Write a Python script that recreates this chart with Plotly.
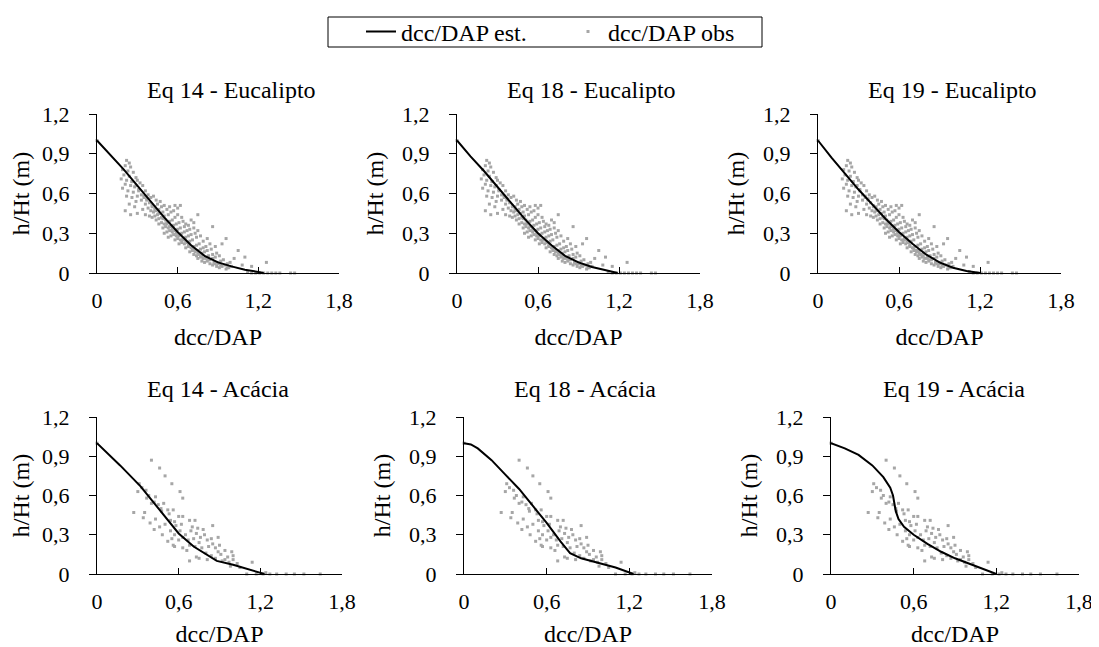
import plotly.graph_objects as go

# curvas estimadas dcc/DAP x h/Ht
eq14_euc_x = [0, 0.1, 0.2, 0.3, 0.4, 0.5, 0.6, 0.7, 0.8, 0.9, 1.0, 1.1, 1.2, 1.24]
eq14_euc_y = [1.0, 0.89, 0.78, 0.66, 0.54, 0.42, 0.31, 0.21, 0.13, 0.08, 0.05, 0.025, 0.008, 0.0]
eq18_euc_x = [0, 0.1, 0.2, 0.3, 0.4, 0.5, 0.6, 0.7, 0.8, 0.9, 1.0, 1.1, 1.19]
eq18_euc_y = [1.0, 0.88, 0.77, 0.65, 0.53, 0.41, 0.30, 0.21, 0.13, 0.08, 0.045, 0.02, 0.0]
eq19_euc_x = [0, 0.1, 0.2, 0.3, 0.4, 0.5, 0.6, 0.7, 0.8, 0.9, 1.0, 1.1, 1.2]
eq19_euc_y = [1.0, 0.87, 0.75, 0.63, 0.52, 0.41, 0.31, 0.22, 0.14, 0.08, 0.04, 0.015, 0.0]
eq14_aca_x = [0, 0.17, 0.32, 0.46, 0.6, 0.71, 0.8, 0.88, 1.0, 1.1, 1.23]
eq14_aca_y = [1.0, 0.83, 0.67, 0.49, 0.31, 0.21, 0.15, 0.10, 0.07, 0.04, 0.0]
eq18_aca_x = [0, 0.05, 0.1, 0.2, 0.3, 0.4, 0.5, 0.6, 0.7, 0.77, 0.85, 1.0, 1.1, 1.23]
eq18_aca_y = [1.0, 0.99, 0.96, 0.87, 0.76, 0.65, 0.52, 0.39, 0.25, 0.16, 0.12, 0.08, 0.05, 0.0]
eq19_aca_x = [0, 0.1, 0.2, 0.3, 0.38, 0.43, 0.45, 0.46, 0.47, 0.49, 0.53, 0.6, 0.7, 0.8, 0.9, 1.0, 1.1, 1.2]
eq19_aca_y = [1.0, 0.96, 0.91, 0.83, 0.74, 0.66, 0.6, 0.54, 0.48, 0.42, 0.36, 0.3, 0.23, 0.17, 0.12, 0.08, 0.04, 0.0]

# observados - eucalipto
obs_euc_x = [0.0,
    0.22, 0.24, 0.21, 0.25, 0.19, 0.23, 0.27, 0.20, 0.24, 0.29, 0.18, 0.22, 0.26, 0.30, 0.21,
    0.25, 0.28, 0.32, 0.19, 0.23, 0.27, 0.31, 0.34, 0.36, 0.22, 0.26, 0.30, 0.33, 0.24, 0.29,
    0.21, 0.25, 0.30, 0.28, 0.34, 0.36,
    0.33, 0.35, 0.37, 0.38, 0.40, 0.42, 0.44, 0.36, 0.39, 0.41, 0.43, 0.45, 0.47, 0.38, 0.40,
    0.42, 0.44, 0.46, 0.48, 0.50, 0.39, 0.41, 0.43, 0.45, 0.47, 0.49, 0.52, 0.54, 0.44, 0.46,
    0.48, 0.50, 0.51, 0.53, 0.55, 0.58, 0.60, 0.62, 0.57,
    0.46, 0.48, 0.50, 0.52, 0.54, 0.56, 0.58, 0.60, 0.63, 0.49, 0.51, 0.53, 0.55, 0.57, 0.59,
    0.61, 0.64, 0.66, 0.52, 0.54, 0.56, 0.58, 0.60, 0.62, 0.65, 0.68, 0.70, 0.55, 0.57, 0.59,
    0.61, 0.63, 0.65, 0.67, 0.69, 0.72, 0.58, 0.60, 0.62, 0.64, 0.66, 0.68, 0.70, 0.73, 0.75,
    0.61, 0.63, 0.65, 0.67, 0.69, 0.71, 0.74, 0.77, 0.75, 0.72, 0.50, 0.53,
    0.66, 0.68, 0.70, 0.72, 0.74, 0.76, 0.79, 0.82, 0.69, 0.71, 0.73, 0.75, 0.77, 0.79, 0.81,
    0.84, 0.72, 0.74, 0.76, 0.78, 0.80, 0.82, 0.85, 0.88, 0.75, 0.77, 0.79, 0.81, 0.83, 0.86,
    0.89, 0.78, 0.80, 0.82, 0.84, 0.86, 0.88, 0.91, 0.84, 0.86, 0.88, 0.90, 0.92, 0.94, 0.89,
    0.91, 0.93, 0.95, 0.97, 0.99, 0.96, 0.98, 1.00, 0.86, 0.96, 0.93, 1.05, 1.10, 1.02, 1.26,
    1.15, 1.08,
    # faixa junto da curva
    0.26, 0.31, 0.35, 0.41, 0.46, 0.52, 0.56, 0.61, 0.64, 0.68, 0.71, 0.75, 0.78, 0.83, 0.87,
    0.92, 0.97, 0.29, 0.37, 0.43, 0.49, 0.54, 0.59, 0.66, 0.73, 0.81, 0.90,
    1.18, 1.21, 1.24, 1.27, 1.30, 1.33, 1.36, 1.44, 1.47, 1.12, 1.15]
obs_euc_y = [1.0,
    0.85, 0.83, 0.81, 0.80, 0.78, 0.77, 0.76, 0.74, 0.73, 0.72, 0.71, 0.70, 0.69, 0.70, 0.67,
    0.66, 0.65, 0.68, 0.64, 0.62, 0.61, 0.63, 0.66, 0.62, 0.58, 0.57, 0.58, 0.59, 0.52, 0.54,
    0.47, 0.44, 0.45, 0.50, 0.48, 0.44,
    0.55, 0.57, 0.56, 0.59, 0.57, 0.58, 0.55, 0.52, 0.53, 0.51, 0.50, 0.52, 0.54, 0.49, 0.47,
    0.46, 0.47, 0.48, 0.50, 0.51, 0.43, 0.42, 0.43, 0.44, 0.45, 0.46, 0.48, 0.50, 0.40, 0.41,
    0.42, 0.43, 0.40, 0.44, 0.46, 0.51, 0.49, 0.51, 0.47,
    0.37, 0.38, 0.37, 0.38, 0.39, 0.40, 0.42, 0.44, 0.42, 0.34, 0.35, 0.34, 0.35, 0.36, 0.37,
    0.38, 0.39, 0.37, 0.31, 0.32, 0.31, 0.32, 0.33, 0.34, 0.35, 0.36, 0.40, 0.28, 0.29, 0.28,
    0.29, 0.30, 0.31, 0.32, 0.33, 0.34, 0.25, 0.26, 0.25, 0.26, 0.27, 0.28, 0.29, 0.30, 0.32,
    0.22, 0.23, 0.22, 0.23, 0.24, 0.25, 0.27, 0.28, 0.44, 0.38, 0.30, 0.27,
    0.19, 0.20, 0.19, 0.20, 0.21, 0.22, 0.24, 0.26, 0.16, 0.17, 0.16, 0.17, 0.18, 0.19, 0.20,
    0.22, 0.14, 0.13, 0.14, 0.15, 0.16, 0.17, 0.18, 0.20, 0.11, 0.12, 0.11, 0.12, 0.13, 0.14,
    0.15, 0.09, 0.08, 0.09, 0.10, 0.11, 0.12, 0.13, 0.07, 0.06, 0.07, 0.08, 0.09, 0.10, 0.05,
    0.04, 0.05, 0.06, 0.07, 0.08, 0.03, 0.04, 0.05, 0.35, 0.26, 0.22, 0.17, 0.12, 0.11, 0.08,
    0.05, 0.06,
    0.69, 0.62, 0.58, 0.50, 0.45, 0.37, 0.33, 0.28, 0.25, 0.21, 0.19, 0.15, 0.13, 0.10, 0.08,
    0.06, 0.04, 0.66, 0.55, 0.48, 0.41, 0.35, 0.30, 0.24, 0.17, 0.11, 0.07,
    0.0, 0.0, 0.0, 0.0, 0.0, 0.0, 0.0, 0.0, 0.0, 0.01, 0.0]

# observados - acacia
obs_aca_x = [0.0,
    0.40, 0.46, 0.50, 0.55, 0.61, 0.63,
    0.31, 0.30, 0.36, 0.33, 0.38, 0.43, 0.365, 0.40, 0.42, 0.45, 0.49, 0.47,
    0.27, 0.35, 0.34, 0.39, 0.42, 0.43, 0.48, 0.46, 0.50,
    0.475, 0.52, 0.56, 0.53,
    0.54, 0.57, 0.60, 0.63, 0.68, 0.72, 0.58, 0.62,
    0.74, 0.78, 0.85, 0.70,
    0.54, 0.57, 0.61, 0.65, 0.69, 0.52, 0.56,
    0.55, 0.60, 0.63, 0.67, 0.71, 0.76, 0.81, 0.84, 0.89, 0.79, 0.73,
    0.57, 0.63, 0.68, 0.72, 0.77, 0.82, 0.87, 0.90, 0.94, 0.99, 0.75, 0.85, 0.66, 0.80, 0.91, 0.96,
    0.68, 0.75, 0.81, 0.87, 0.92, 0.97, 1.00, 1.03, 1.14, 0.84, 0.94, 1.00, 0.73, 0.89, 0.98, 1.05,
    1.10, 1.17, 1.22, 1.27, 1.32, 1.39, 1.45, 1.52, 1.64, 1.24]
obs_aca_y = [1.0,
    0.87, 0.81, 0.75, 0.69, 0.63, 0.58,
    0.69, 0.63, 0.64, 0.66, 0.60, 0.59, 0.58, 0.54, 0.55, 0.53, 0.54, 0.50,
    0.47, 0.47, 0.43, 0.39, 0.34, 0.42, 0.30, 0.36, 0.38,
    0.48, 0.49, 0.49, 0.46,
    0.41, 0.40, 0.44, 0.44, 0.41, 0.41, 0.37, 0.38,
    0.35, 0.34, 0.37, 0.36,
    0.33, 0.30, 0.33, 0.30, 0.33, 0.25, 0.22,
    0.27, 0.26, 0.28, 0.26, 0.27, 0.28, 0.26, 0.27, 0.28, 0.30, 0.31,
    0.21, 0.20, 0.22, 0.21, 0.20, 0.21, 0.20, 0.22, 0.18, 0.17, 0.24, 0.23, 0.18, 0.16, 0.15, 0.13,
    0.10, 0.12, 0.11, 0.12, 0.10, 0.09, 0.11, 0.08, 0.09, 0.14, 0.11, 0.14, 0.13, 0.17, 0.06, 0.05,
    0.0, 0.0, 0.0, 0.0, 0.0, 0.0, 0.0, 0.0, 0.0, 0.01]

titulos = ["Eq 14 - Eucalipto", "Eq 18 - Eucalipto", "Eq 19 - Eucalipto",
           "Eq 14 - Acácia", "Eq 18 - Acácia", "Eq 19 - Acácia"]
curvas = [(eq14_euc_x, eq14_euc_y), (eq18_euc_x, eq18_euc_y), (eq19_euc_x, eq19_euc_y),
          (eq14_aca_x, eq14_aca_y), (eq18_aca_x, eq18_aca_y), (eq19_aca_x, eq19_aca_y)]
obs = [(obs_euc_x, obs_euc_y)] * 3 + [(obs_aca_x, obs_aca_y)] * 3

# a pagina tem margem de 8px no body: a figura fica 8px menor e as posicoes sao descontadas
JANELA_W, JANELA_H, OFF = 1099, 647, 8
W, H = JANELA_W - OFF, JANELA_H - OFF


def px(v):
    return (v - OFF) / W


def py(v):
    return 1 - (v - OFF) / H


# caixas dos graficos em pixels da janela: (x esq, x dir, y topo, y base)
caixas = [(97, 339, 114, 273), (457, 700, 114, 273), (818, 1061, 114, 273),
          (97, 342, 417, 574), (464, 712, 417, 574), (831, 1079, 417, 574)]
centro_titulo = [231, 591, 952, 218, 585, 954]
altura_titulo = [90, 90, 90, 389, 389, 389]
fonte = "'Times New Roman', 'Liberation Serif', 'DejaVu Serif', serif"

fig = go.Figure()
layout = {}
anots = []
for i in range(6):
    n = "" if i == 0 else str(i + 1)
    ox, oy = obs[i]
    cx, cy = curvas[i]
    fig.add_trace(go.Scatter(x=ox, y=oy, mode="markers", name="dcc/DAP obs",
                             marker=dict(symbol="square", size=3, color="#a6a6a6"),
                             cliponaxis=False, showlegend=(i == 0), legendrank=2,
                             xaxis="x" + n, yaxis="y" + n))
    fig.add_trace(go.Scatter(x=cx, y=cy, mode="lines", name="dcc/DAP est.",
                             line=dict(color="black", width=2), cliponaxis=False,
                             showlegend=(i == 0), legendrank=1,
                             xaxis="x" + n, yaxis="y" + n))
    x0, x1, y0, y1 = caixas[i]
    layout["xaxis" + n] = dict(
        domain=[px(x0), px(x1)], range=[0, 1.8], tickvals=[0, 0.6, 1.2, 1.8],
        anchor="y" + n, showline=True, linecolor="black", linewidth=1, automargin=False,
        ticks="inside", ticklen=6, tickcolor="black", showgrid=False, zeroline=False,
        ticklabelstandoff=8, tickfont=dict(size=22),
        title=dict(text="dcc/DAP", font=dict(size=24), standoff=15))
    layout["yaxis" + n] = dict(
        domain=[py(y1), py(y0)], range=[0, 1.2], tickvals=[0, 0.3, 0.6, 0.9, 1.2],
        anchor="x" + n, showline=True, linecolor="black", linewidth=1, automargin=False,
        ticks="outside", ticklen=7, tickcolor="black", showgrid=False, zeroline=False,
        ticklabelstandoff=15, tickfont=dict(size=22),
        title=dict(text="h/Ht (m)", font=dict(size=24), standoff=11))
    anots.append(dict(text=titulos[i], x=px(centro_titulo[i]), y=py(altura_titulo[i]),
                      xref="paper", yref="paper", showarrow=False,
                      xanchor="center", yanchor="middle", font=dict(size=24)))

fig.update_layout(
    width=W, height=H, margin=dict(l=0, r=0, t=0, b=0, autoexpand=False),
    paper_bgcolor="white", plot_bgcolor="white", separators=",.",
    font=dict(family=fonte, color="black"),
    annotations=anots,
    shapes=[dict(type="rect", xref="paper", yref="paper",
                 x0=px(328), x1=px(762), y0=py(47), y1=py(17),
                 line=dict(color="black", width=1))],
    legend=dict(orientation="h", x=px(361), xanchor="left", y=py(32), yanchor="middle",
                bgcolor="rgba(0,0,0,0)", borderwidth=0, itemwidth=30,
                entrywidth=162, entrywidthmode="pixels", font=dict(size=24),
                traceorder="normal"),
    **layout)

fig.write_html("out.html")
